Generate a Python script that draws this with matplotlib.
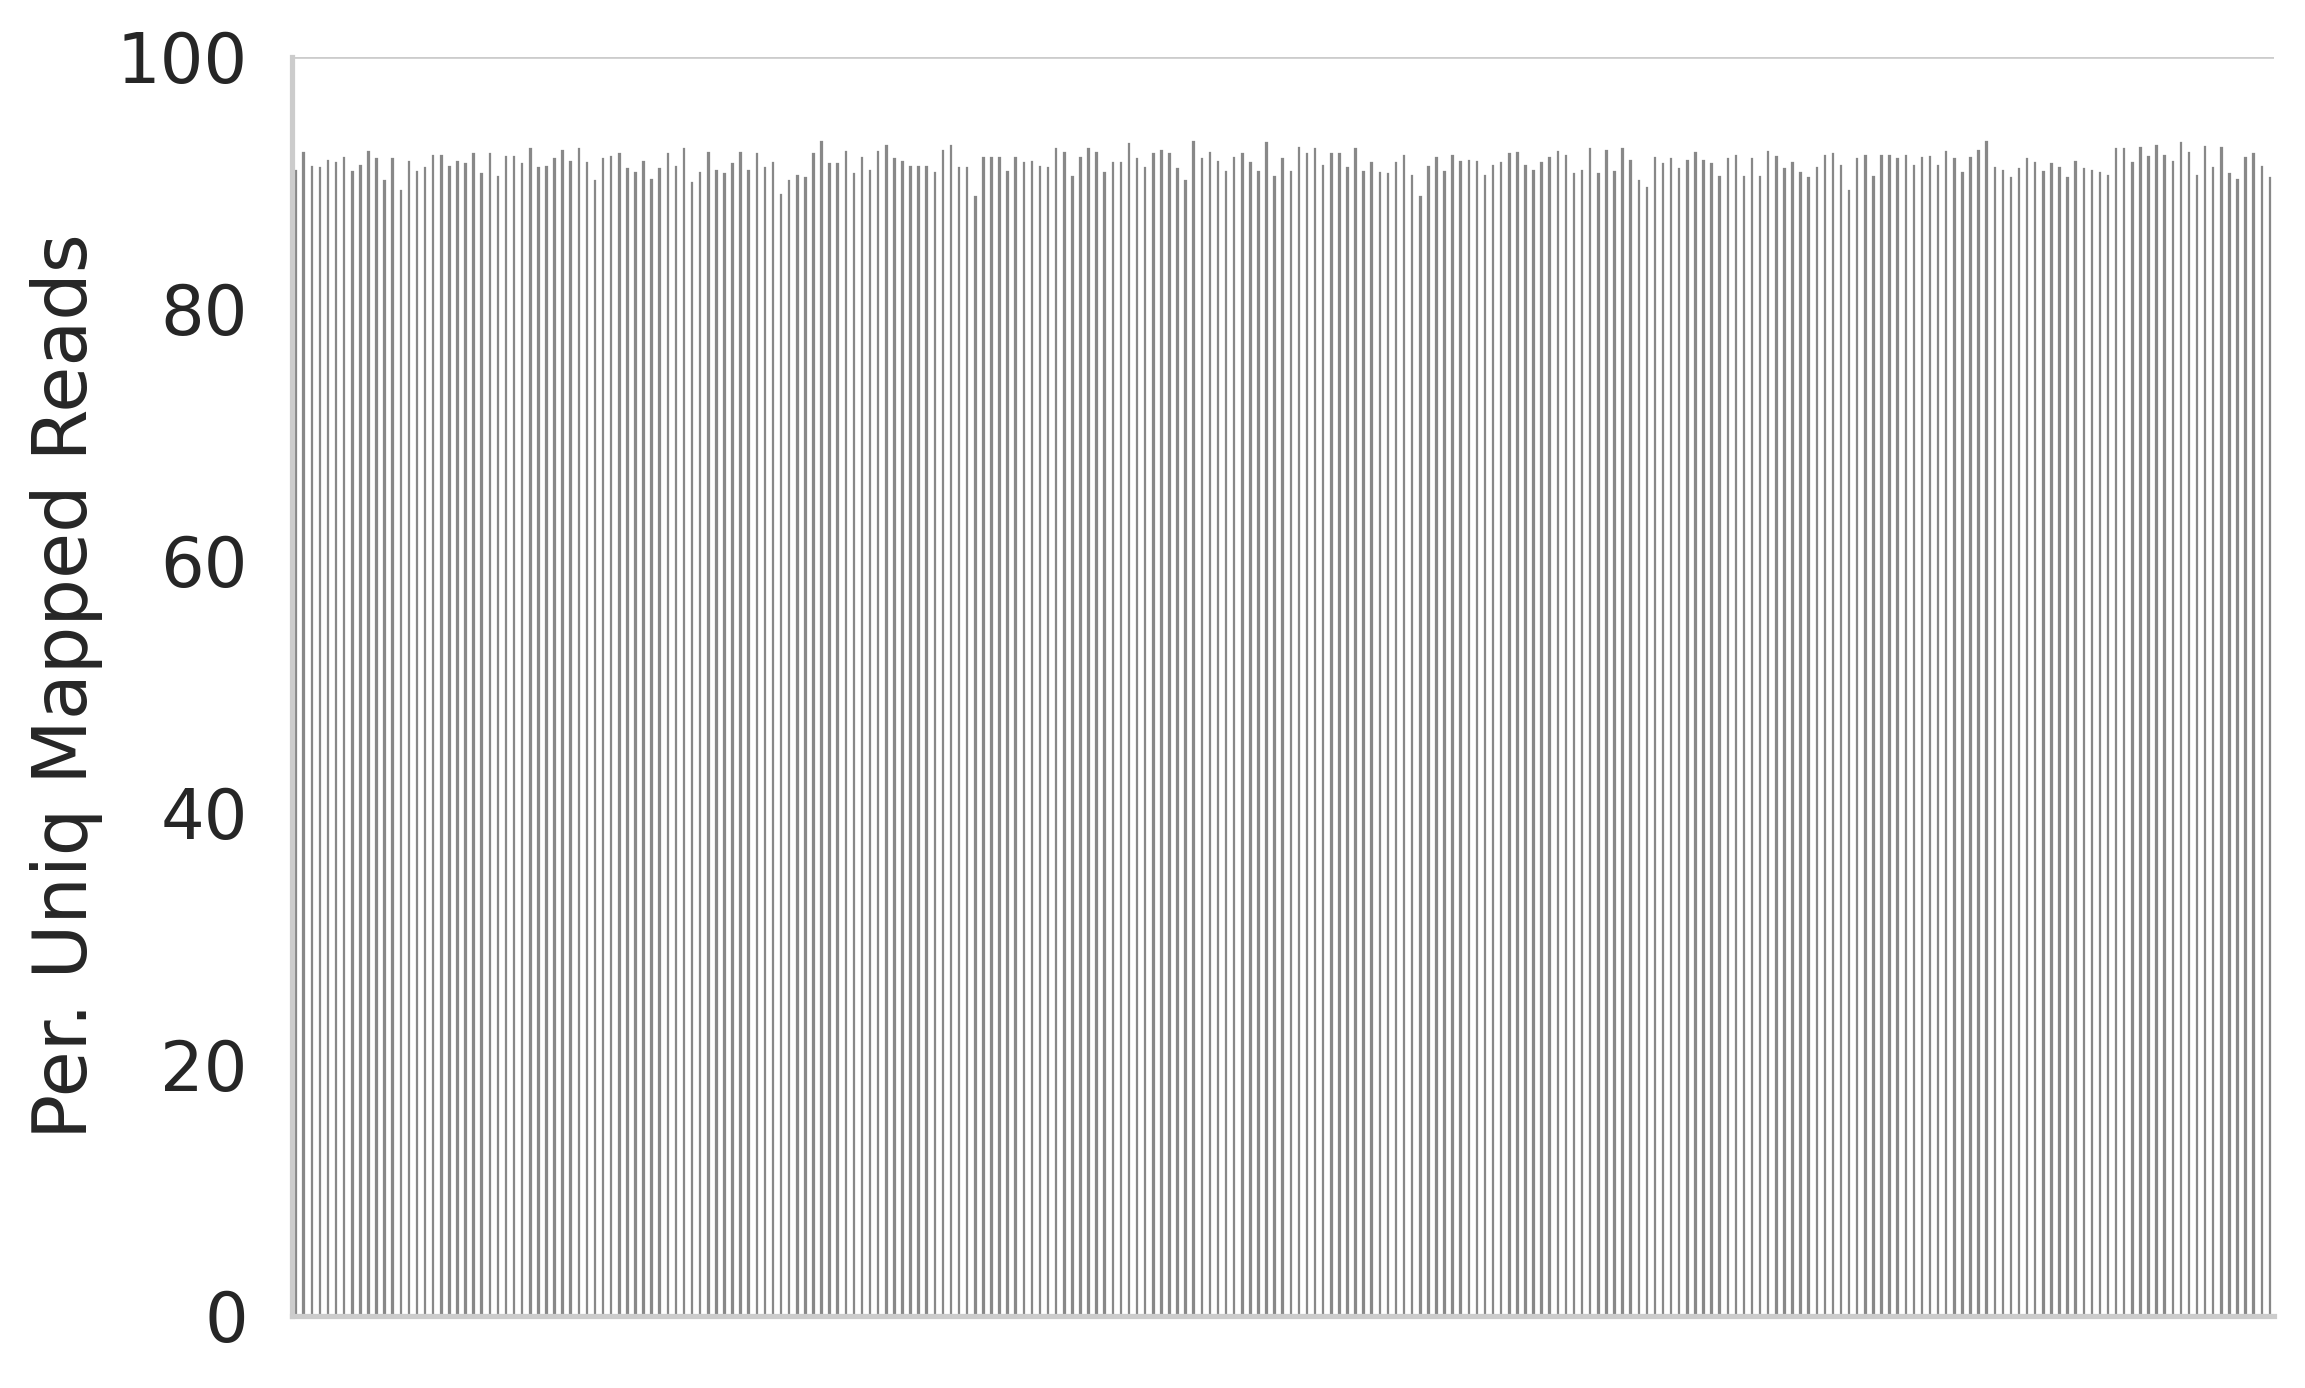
import matplotlib
matplotlib.use("Agg")
import matplotlib.pyplot as plt
import numpy as np

# percent uniquely mapped reads per sample
uniq_mapped = [
    91.2, 92.6, 91.5, 91.4, 92.0, 91.8, 92.2, 91.1, 91.6, 92.7,
    92.1, 90.4, 92.1, 89.6, 91.9, 91.1, 91.4, 92.4, 92.4, 91.5,
    91.9, 91.7, 92.5, 90.9, 92.5, 90.7, 92.3, 92.3, 91.7, 92.9,
    91.4, 91.5, 92.1, 92.8, 91.9, 92.9, 91.8, 90.4, 92.1, 92.3,
    92.5, 91.3, 91.0, 91.9, 90.5, 91.3, 92.5, 91.5, 92.9, 90.2,
    91.0, 92.6, 91.2, 90.9, 91.7, 92.6, 91.2, 92.5, 91.4, 91.8,
    89.3, 90.4, 90.8, 90.6, 92.5, 93.5, 91.7, 91.7, 92.7, 90.9,
    92.2, 91.2, 92.7, 93.2, 92.1, 91.9, 91.5, 91.5, 91.5, 91.0,
    92.8, 93.2, 91.4, 91.4, 89.1, 92.2, 92.2, 92.2, 91.1, 92.2,
    91.8, 91.9, 91.5, 91.4, 92.9, 92.6, 90.7, 92.2, 92.9, 92.6,
    91.0, 91.8, 91.8, 93.3, 92.1, 91.4, 92.5, 92.8, 92.5, 91.3,
    90.4, 93.5, 92.1, 92.6, 91.9, 91.1, 92.2, 92.5, 91.8, 91.1,
    93.4, 90.7, 92.1, 91.1, 93.0, 92.5, 92.9, 91.6, 92.5, 92.5,
    91.4, 92.9, 91.1, 91.8, 91.0, 90.9, 91.8, 92.4, 90.8, 89.1,
    91.5, 92.2, 91.1, 92.4, 91.9, 92.0, 91.9, 90.8, 91.6, 91.8,
    92.5, 92.6, 91.6, 91.2, 91.8, 92.2, 92.7, 92.4, 90.9, 91.2,
    92.9, 90.9, 92.8, 91.1, 92.9, 92.0, 90.4, 89.8, 92.2, 91.7,
    92.1, 91.3, 92.0, 92.6, 92.0, 91.7, 90.7, 92.1, 92.4, 90.7,
    92.1, 90.7, 92.7, 92.3, 91.3, 91.8, 91.0, 90.6, 91.4, 92.4,
    92.5, 91.6, 89.6, 92.1, 92.4, 90.7, 92.4, 92.4, 92.1, 92.4,
    91.6, 92.2, 92.3, 91.6, 92.7, 92.1, 91.0, 92.2, 92.8, 93.5,
    91.4, 91.2, 90.6, 91.3, 92.1, 91.8, 91.1, 91.7, 91.4, 90.6,
    91.9, 91.3, 91.2, 91.0, 90.8, 92.9, 92.9, 91.8, 93.0, 92.3,
    93.2, 92.4, 91.9, 93.4, 92.6, 90.8, 93.1, 91.4, 93.0, 90.9,
    90.5, 92.2, 92.5, 91.5, 90.6,
]
samples = ["S%d" % (i + 1) for i in range(len(uniq_mapped))]

fig = plt.figure(figsize=(2305 / 150, 1388 / 150), dpi=150)
ax = fig.add_axes([0.1265, 0.0519, 0.86, 0.9071])

x = np.arange(len(samples))
# white bar edges hide the grid between bars, like seaborn does
ax.bar(x, uniq_mapped, width=0.8, color="#888888", edgecolor="white",
       linewidth=1.8, zorder=2)

ax.set_xlim(-0.5, len(samples) - 0.5)
ax.set_ylim(0, 100)
ax.set_yticks([0, 20, 40, 60, 80, 100])
ax.set_xticks([])
ax.grid(axis="y", color="#cccccc", linewidth=1.3, zorder=0)
ax.set_axisbelow(True)

for side in ["top", "right"]:
    ax.spines[side].set_visible(False)
for side in ["left", "bottom"]:
    ax.spines[side].set_color("#cccccc")
    ax.spines[side].set_linewidth(2.5)

ax.tick_params(axis="y", length=0, pad=21, labelsize=33, labelcolor="#262626")
ax.set_ylabel("Per. Uniq Mapped Reads", fontsize=36, color="#262626")
ax.yaxis.set_label_coords(-0.095, 0.5)

fig.savefig("out.png", dpi=150, facecolor="white")
